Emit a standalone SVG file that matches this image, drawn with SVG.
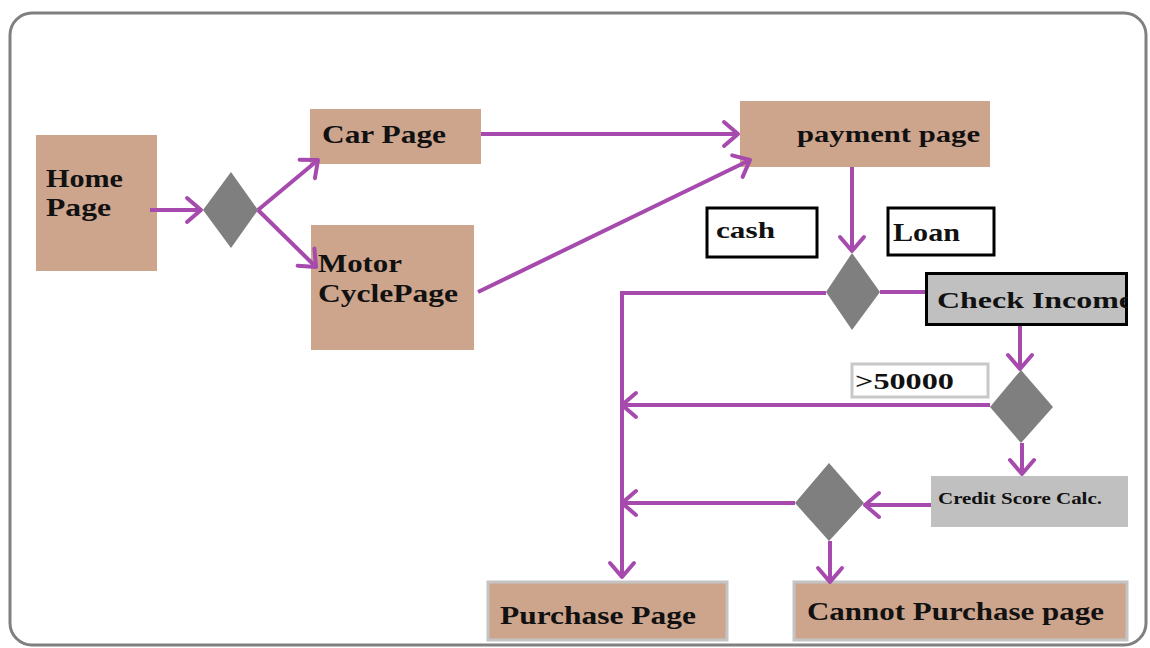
<svg xmlns="http://www.w3.org/2000/svg" width="1150" height="648" viewBox="0 0 1150 648">
<defs>
<marker id="arr" markerUnits="userSpaceOnUse" markerWidth="40" markerHeight="40" viewBox="-20 -20 40 40" refX="0" refY="0" orient="auto">
<path d="M-14,-12 L0,0 L-14,12" fill="none" stroke="#A64AAE" stroke-width="4" stroke-linecap="round" stroke-linejoin="round"/>
</marker>
</defs>
<style>
.tan{fill:#CDA48C}
.tanb{fill:#CDA48C;stroke:#C4C4C4;stroke-width:3}
.dia{fill:#7F7F7F}
.lbl{fill:#fff;stroke:#000;stroke-width:3}
.t{font-family:"Liberation Serif","Times New Roman",serif;font-weight:bold;fill:#111}
.c{fill:none;stroke:#A64AAE;stroke-width:4}
.ca{fill:none;stroke:#A64AAE;stroke-width:4;marker-end:url(#arr)}
</style>
<rect x="10" y="13" width="1136" height="632" rx="22" ry="22" fill="#fff" stroke="#808080" stroke-width="3"/>

<g id="home"><rect class="tan" x="36" y="135" width="121" height="136"/><text class="t" font-size="25" x="46" y="187" textLength="77" lengthAdjust="spacingAndGlyphs">Home</text><text class="t" font-size="25" x="46" y="216" textLength="65" lengthAdjust="spacingAndGlyphs">Page</text></g>
<g id="d1"><polygon class="dia" points="231,172 258,210 231,248 203,210"/></g>
<g id="car"><rect class="tan" x="310" y="109" width="171" height="55"/><text class="t" font-size="25" x="322" y="143" textLength="124" lengthAdjust="spacingAndGlyphs">Car Page</text></g>
<g id="motor"><rect class="tan" x="311" y="225" width="163" height="125"/><text class="t" font-size="25" x="318" y="272" textLength="84" lengthAdjust="spacingAndGlyphs">Motor</text><text class="t" font-size="25" x="318" y="302" textLength="140" lengthAdjust="spacingAndGlyphs">CyclePage</text></g>
<g id="payment"><rect class="tan" x="740" y="101" width="250" height="66"/><text class="t" font-size="24" x="797" y="142" textLength="183" lengthAdjust="spacingAndGlyphs">payment page</text></g>
<g id="cash"><rect class="lbl" x="707" y="208" width="110" height="49"/><text class="t" font-size="23" x="716" y="238" textLength="59" lengthAdjust="spacingAndGlyphs">cash</text></g>
<g id="loan"><rect class="lbl" x="888" y="208" width="106" height="47"/><text class="t" font-size="25" x="893" y="241" textLength="67" lengthAdjust="spacingAndGlyphs">Loan</text></g>
<g id="d2"><polygon class="dia" points="852,253 880,292 852,330 826,292"/></g>
<g id="checkincome"><svg x="925" y="272" width="203" height="54" overflow="hidden"><rect x="1.5" y="1.5" width="200" height="51" fill="#C0C0C0" stroke="#000" stroke-width="3"/><text class="t" font-size="24" x="12" y="36" textLength="196" lengthAdjust="spacingAndGlyphs">Check Income</text></svg></g>
<g id="gt50000"><rect x="852" y="364" width="136" height="33" fill="#fff" stroke="#C8C8C8" stroke-width="3"/><text class="t" font-size="23" x="855" y="389" textLength="99" lengthAdjust="spacingAndGlyphs">&gt;50000</text></g>
<g id="d3"><polygon class="dia" points="1021,370 1053,407 1021,443 990,407"/></g>
<g id="credit"><rect x="931" y="476" width="197" height="51" fill="#C0C0C0"/><text class="t" font-size="17" x="938" y="504" textLength="164" lengthAdjust="spacingAndGlyphs">Credit Score Calc.</text></g>
<g id="d4"><polygon class="dia" points="829,463 864,503 829,541 795,503"/></g>
<g id="purchase"><rect class="tanb" x="488" y="582" width="239" height="58"/><text class="t" font-size="25" x="500" y="624" textLength="196" lengthAdjust="spacingAndGlyphs">Purchase Page</text></g>
<g id="cannot"><rect class="tanb" x="794" y="582" width="333" height="58"/><text class="t" font-size="26" x="807" y="620" textLength="297" lengthAdjust="spacingAndGlyphs">Cannot Purchase page</text></g>

<g id="connectors">
<line class="ca" x1="150" y1="210" x2="201" y2="210"/>
<line class="ca" x1="258" y1="210" x2="318" y2="160"/>
<line class="ca" x1="258" y1="210" x2="316" y2="267"/>
<line class="ca" x1="481" y1="134" x2="738" y2="134"/>
<line class="ca" x1="478" y1="292" x2="750" y2="160"/>
<line class="ca" x1="852" y1="167" x2="852" y2="251"/>
<polyline class="ca" points="826,293 622,293 622,577"/>
<line class="c" x1="880" y1="292" x2="925" y2="292"/>
<line class="ca" x1="1020" y1="326" x2="1020" y2="369"/>
<line class="ca" x1="990" y1="405" x2="622" y2="405"/>
<line class="ca" x1="1022" y1="443" x2="1022" y2="474"/>
<line class="ca" x1="931" y1="505" x2="865" y2="505"/>
<line class="ca" x1="795" y1="503" x2="622" y2="503"/>
<line class="ca" x1="830" y1="541" x2="830" y2="582"/>
</g>
</svg>
